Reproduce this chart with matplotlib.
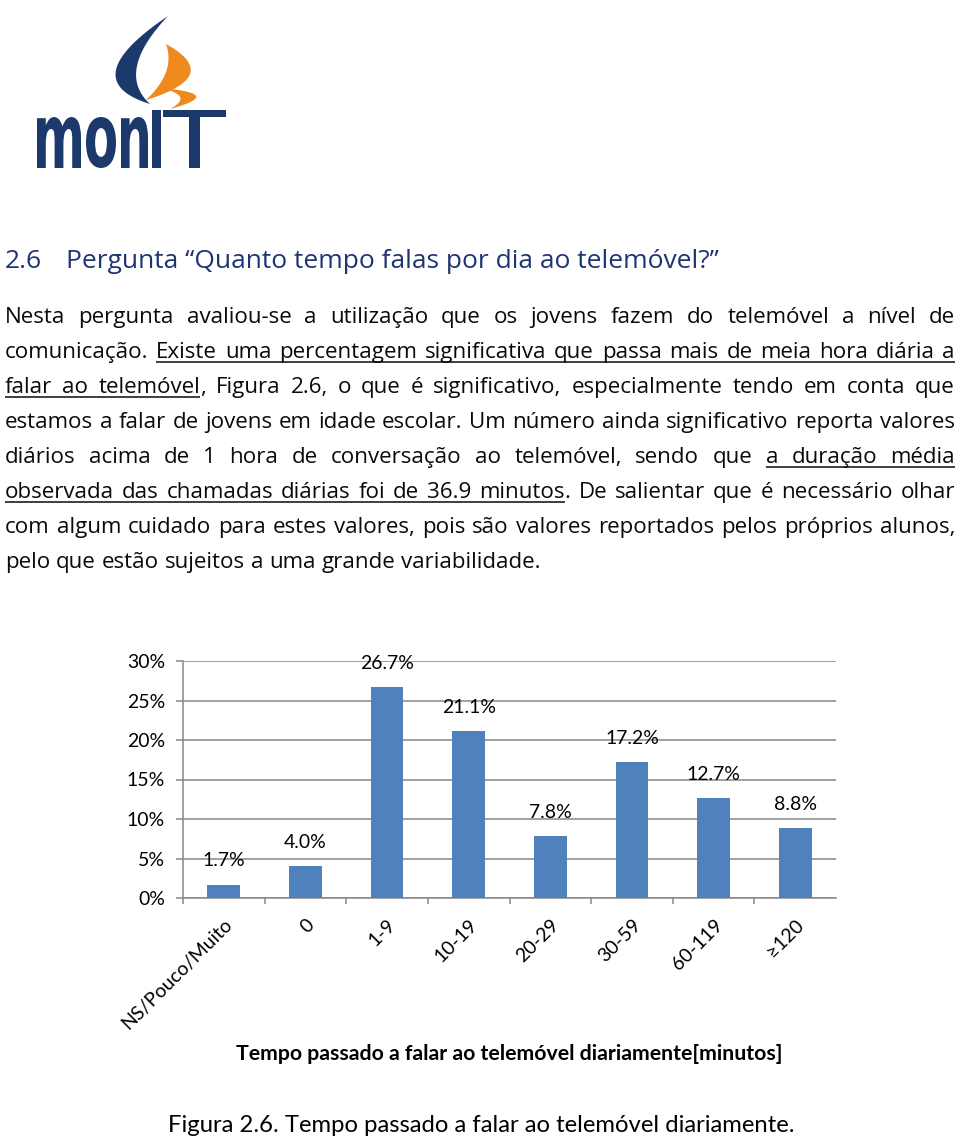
import numpy as np
import matplotlib
matplotlib.use('Agg')
import matplotlib.pyplot as plt
from matplotlib.patches import Polygon, PathPatch
from matplotlib.textpath import TextPath
from matplotlib.font_manager import FontProperties
from matplotlib.transforms import Affine2D
from matplotlib.ticker import FixedLocator

# ---------------- data ----------------
categories = ['NS/Pouco/Muito', '0', '1-9', '10-19', '20-29', '30-59', '60-119', '≥120']
values = [1.7, 4.0, 26.7, 21.1, 7.8, 17.2, 12.7, 8.8]
yticks = [0, 5, 10, 15, 20, 25, 30]
ytick_labels = ['0%', '5%', '10%', '15%', '20%', '25%', '30%']
heading_num = '2.6'
heading = 'Pergunta “Quanto tempo falas por dia ao telemóvel?”'
body_lines = [
    'Nesta pergunta avaliou-se a utilização que os jovens fazem do telemóvel a nível de',
    'comunicação. [[Existe uma percentagem significativa que passa mais de meia hora diária a]]',
    '[[falar ao telemóvel]], Figura 2.6, o que é significativo, especialmente tendo em conta que',
    'estamos a falar de jovens em idade escolar. Um número ainda significativo reporta valores',
    'diários acima de 1 hora de conversação ao telemóvel, sendo que [[a duração média]]',
    '[[observada das chamadas diárias foi de 36.9 minutos]]. De salientar que é necessário olhar',
    'com algum cuidado para estes valores, pois são valores reportados pelos próprios alunos,',
    'pelo que estão sujeitos a uma grande variabilidade.',
]
x_title = 'Tempo passado a falar ao telemóvel diariamente[minutos]'
caption = 'Figura 2.6. Tempo passado a falar ao telemóvel diariamente.'

# ---------------- page ----------------
W, H = 960, 1141
fig = plt.figure(figsize=(9.6, 11.41), dpi=100)
page = fig.add_axes([0, 0, 1, 1])
page.set_xlim(0, W)
page.set_ylim(H, 0)
page.axis('off')
renderer = fig.canvas.get_renderer()

BODY = ['Open Sans', 'DejaVu Sans']
CHART = ['Lato', 'DejaVu Sans']
NAVY = '#1b3a6b'
ORANGE = '#ef8a1e'


def width_px(s, size, family, weight='normal'):
    t = page.text(0, 0, s, fontsize=size, family=family, weight=weight)
    w = t.get_window_extent(renderer).width
    t.remove()
    return w


def fit(s, target, family, weight='normal'):
    return 20 * target / width_px(s, 20, family, weight)


# ---------------- logo ----------------
def place_text_path(s, box, color, family='DejaVu Sans', weight='bold'):
    tp = TextPath((0, 0), s, size=100, prop=FontProperties(family=family, weight=weight))
    ext = tp.get_extents()
    x0, y0, x1, y1 = box
    tr = (Affine2D().translate(-ext.x0, -ext.y0)
          .scale((x1 - x0) / ext.width, -(y1 - y0) / ext.height)
          .translate(x0, y1))
    page.add_patch(PathPatch(tr.transform_path(tp), color=color, lw=0))


place_text_path('m', (37, 117, 81, 168), NAVY)
place_text_path('o', (86, 117, 116, 168), NAVY)
place_text_path('n', (121, 117, 148, 168), NAVY)
place_text_path('I', (152, 110, 161, 168), NAVY, weight='normal')
place_text_path('T', (163, 110, 226, 168), NAVY, weight='normal')


def bez(p0, m, p2, n=60):
    p0, m, p2 = np.array(p0, float), np.array(m, float), np.array(p2, float)
    c = 2 * m - 0.5 * (p0 + p2)
    t = np.linspace(0, 1, n)[:, None]
    return (1 - t) ** 2 * p0 + 2 * (1 - t) * t * c + t ** 2 * p2


def crescent(p0, p2, m_out, m_in, color):
    outer = bez(p0, m_out, p2)
    inner = bez(p0, m_in, p2)[::-1]
    page.add_patch(Polygon(np.vstack([outer, inner]), closed=True, color=color, lw=0))


crescent((168, 16), (150, 104), (116, 70), (137, 66), NAVY)
crescent((166, 44), (146, 100), (190, 74), (166, 72), ORANGE)
crescent((160, 88), (170, 109), (196, 96), (180, 97), ORANGE)

# ---------------- heading ----------------
hsize = fit(heading, 652, BODY)
page.text(5, 268, heading_num, fontsize=hsize, family=BODY, color='#1f3473', va='baseline')
page.text(66, 268, heading, fontsize=hsize, family=BODY, color='#1f3473', va='baseline')

# ---------------- body text ----------------
bsize = fit(body_lines[-1], 535, BODY)
TXT = '#0a0a0a'


def parse(line):
    words = []
    ul = False
    for w in line.split(' '):
        segs = []
        buf = ''
        i = 0
        while i < len(w):
            if w.startswith('[[', i):
                if buf:
                    segs.append((buf, ul)); buf = ''
                ul = True; i += 2
            elif w.startswith(']]', i):
                if buf:
                    segs.append((buf, ul)); buf = ''
                ul = False; i += 2
            else:
                buf += w[i]; i += 1
        if buf:
            segs.append((buf, ul))
        words.append(segs)
    return words


space_w = width_px('a a', bsize, BODY) - width_px('aa', bsize, BODY)
for li, line in enumerate(body_lines):
    base = 323 + 35 * li
    words = parse(line)
    seg_w = [[width_px(s, bsize, BODY) for s, _ in wd] for wd in words]
    word_w = [sum(ws) for ws in seg_w]
    justify = li < len(body_lines) - 1
    if justify and len(words) > 1:
        gap = (955 - 5 - sum(word_w)) / (len(words) - 1)
    else:
        gap = space_w
    x = 5
    prev_ul_end = None
    for wd, ws in zip(words, seg_w):
        for j, ((s, ul), w) in enumerate(zip(wd, ws)):
            page.text(x, base, s, fontsize=bsize, family=BODY, color=TXT, va='baseline')
            if ul:
                start = x
                if j == 0 and prev_ul_end is not None:
                    start = prev_ul_end
                page.plot([start, x + w], [base + 4, base + 4], color=TXT, lw=1.1,
                          solid_capstyle='butt')
            x += w
        prev_ul_end = (x if wd[-1][1] else None)
        x += gap

# ---------------- chart ----------------
ax = fig.add_axes([183 / W, (H - 898) / H, (836 - 183) / W, (898 - 661) / H])
xpos = np.arange(len(categories))
ax.bar(xpos, values, width=0.4, color='#4f81bd', zorder=3)
ax.set_xlim(-0.5, len(categories) - 0.5)
ax.set_ylim(0, 30)
ax.set_yticks(yticks)
ax.set_yticklabels(ytick_labels)
ax.yaxis.grid(True, color='#878787', lw=1.1)
ax.set_axisbelow(True)
for sp in ['top', 'right']:
    ax.spines[sp].set_visible(False)
for sp in ['left', 'bottom']:
    ax.spines[sp].set_color('#878787')
    ax.spines[sp].set_linewidth(1.1)

csize = fit('30%', 38, CHART)
ax.tick_params(axis='y', length=5, color='#878787', width=1.1, pad=8,
               labelsize=csize)
for lab in ax.get_yticklabels():
    lab.set_family(CHART)

ax.set_xticks(xpos)
ax.set_xticklabels(categories, rotation=45, ha='right', va='top',
                   rotation_mode='anchor', fontsize=csize, family=CHART)
ax.tick_params(axis='x', which='major', length=0, pad=13)
ax.xaxis.set_minor_locator(FixedLocator(np.arange(len(categories)) - 0.5))
ax.tick_params(axis='x', which='minor', length=4, color='#878787', width=1.1)

for xi, v in zip(xpos, values):
    ax.annotate(f'{v:.1f}%', (xi, v), xytext=(0, 17), textcoords='offset points',
                ha='center', va='center', fontsize=csize, family=CHART)

tsize = fit(x_title, 545, CHART, 'bold')
page.text(509.5, 1060, x_title, fontsize=tsize, family=CHART, weight='bold',
          ha='center', va='baseline', color='black')

capsize = fit(caption, 628, CHART)
page.text(481, 1132, caption, fontsize=capsize, family=CHART, ha='center',
          va='baseline', color='black')

fig.savefig('out.png', dpi=100)
